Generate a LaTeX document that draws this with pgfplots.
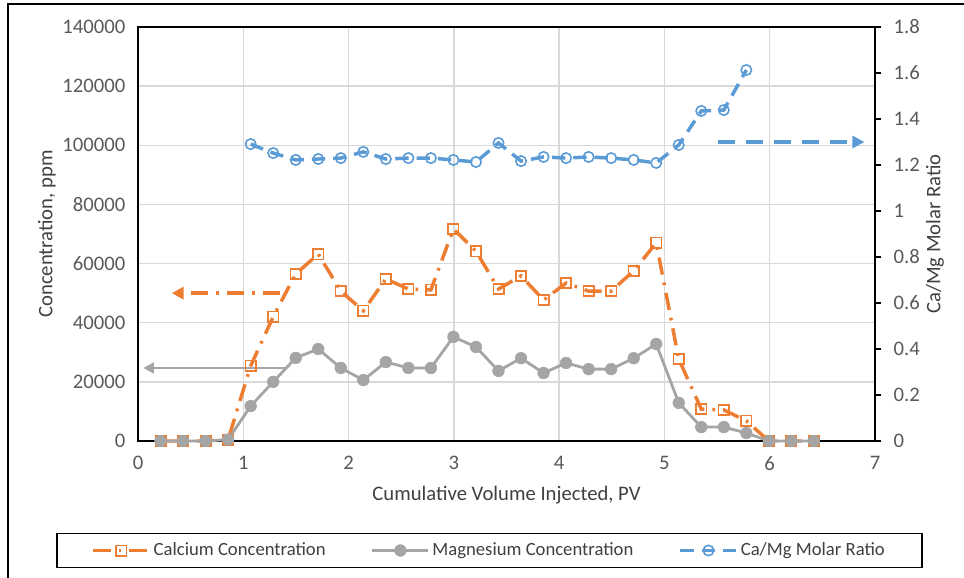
\documentclass[border=0pt]{standalone}
\usepackage{fontspec}
\setmainfont{Carlito}
\usepackage{pgfplots}
\pgfplotsset{compat=1.18}
\usetikzlibrary{arrows.meta}
\definecolor{caor}{HTML}{ED7D31}
\definecolor{mggr}{HTML}{A5A5A5}
\definecolor{rtbl}{HTML}{5B9BD5}
\definecolor{gridc}{HTML}{D9D9D9}
\definecolor{tickc}{HTML}{595959}
\definecolor{titc}{HTML}{404040}
\pgfplotsset{
  castyle/.style={caor, line width=2.6pt, dash pattern=on 13pt off 6pt on 2pt off 6pt,
    mark=square, mark size=3.9pt, mark options={solid, line width=1.2pt, fill=none}},
  mgstyle/.style={mggr, line width=2.1pt, mark=*, mark size=4.4pt,
    mark options={solid, fill=mggr, draw=mggr, line width=0.4pt}},
  rtstyle/.style={rtbl, line width=2.6pt, dash pattern=on 10pt off 6pt,
    mark=o, mark size=3.9pt, mark options={solid, line width=1.2pt, fill=none}},
  common/.style={
    at={(103.5pt,102.75pt)}, anchor=south west,
    scale only axis, width=552.75pt, height=310.5pt,
    xmin=0, xmax=7,
    font=\fontsize{15.5}{18}\selectfont,
    /pgf/number format/fixed,
    /pgf/number format/precision=2,
    /pgf/number format/assume math mode=true,
    /pgf/number format/set thousands separator={},
    ticklabel style={tickc, font=\fontsize{15.5}{18}\selectfont},
    label style={titc, font=\fontsize{15.5}{18}\selectfont},
    axis line style={black, line width=1.1pt},
    clip=false,
  },
}
\begin{document}
\begin{tikzpicture}[x=0.75pt,y=0.75pt]
\path[use as bounding box] (0,0) rectangle (964,578);
\draw[line width=1.5pt, black] (8,0) -- (8,574) -- (964,574);
\begin{axis}[common,
  ymin=0, ymax=140000,
  xtick={0,1,...,7}, ytick={0,20000,...,140000},
  scaled y ticks=false,
  grid=major, major grid style={gridc, line width=1.1pt},
  tick style={draw=none},
  yticklabel style={xshift=-6pt},
  xticklabel style={yshift=-8pt},
  xlabel={Cumulative Volume Injected, PV},
  ylabel={Concentration, ppm},
  xlabel style={at={(axis description cs:0.5,-0.1304)}, anchor=center},
  ylabel style={at={(axis description cs:-0.1235,0.5)}, anchor=center},
]
\addplot[castyle] coordinates {
(0.214,0) (0.428,0) (0.642,0) (0.856,500) (1.070,25400) (1.284,42000)
(1.498,56500) (1.712,63200) (1.926,50700) (2.140,44000) (2.354,54800)
(2.568,51400) (2.782,51100) (2.996,71700) (3.210,64200) (3.424,51400)
(3.638,55800) (3.852,47700) (4.066,53400) (4.280,50700) (4.494,50700)
(4.708,57500) (4.922,67000) (5.136,27700) (5.350,10800) (5.564,10500)
(5.778,6800) (5.992,0) (6.206,0) (6.420,0)};
\addplot[caor, line width=2.6pt, dash pattern=on 13pt off 6pt on 2pt off 6pt,
  -{Triangle[length=9pt,width=9pt]}] coordinates {(1.35,50000) (0.32,50000)};
\addplot[mggr, line width=1.9pt, -{Triangle[length=8pt,width=8pt]}]
  coordinates {(1.41,24700) (0.05,24700)};
\addplot[mgstyle] coordinates {
(0.214,0) (0.428,0) (0.642,0) (0.856,500) (1.070,11800) (1.284,20000)
(1.498,28100) (1.712,31100) (1.926,24700) (2.140,20600) (2.354,26700)
(2.568,24700) (2.782,24700) (2.996,35200) (3.210,31800) (3.424,23700)
(3.638,28000) (3.852,23000) (4.066,26400) (4.280,24300) (4.494,24300)
(4.708,28000) (4.922,32800) (5.136,12900) (5.350,4700) (5.564,4700)
(5.778,2700) (5.992,0) (6.206,0) (6.420,0)};
\end{axis}
\begin{axis}[common,
  ymin=0, ymax=1.8, ytick={0,0.2,...,1.8},
  axis y line*=right, axis x line=none,
  tick align=outside, major tick length=4.5pt,
  ytick style={black, line width=1.1pt},
  yticklabel style={xshift=6pt},
  ylabel={Ca/Mg Molar Ratio},
  ylabel style={at={(axis description cs:1.0814,0.5)}, anchor=center},
  legend style={at={(axis description cs:0.477,-0.2645)}, anchor=center,
    legend columns=3, draw=black, line width=1.1pt, text=titc,
    font=\fontsize{14}{16}\selectfont, inner xsep=26pt, inner ysep=5pt,
    /tikz/every even column/.append style={column sep=32pt}},
  legend image code/.code={\draw[mark repeat=2,mark phase=2,#1] plot coordinates {(0pt,0pt) (21pt,0pt) (42pt,0pt)};},
]
\addlegendimage{castyle}
\addlegendentry{Calcium Concentration}
\addlegendimage{mgstyle}
\addlegendentry{Magnesium Concentration}
\addplot[rtstyle] coordinates {
(1.070,1.291) (1.284,1.252) (1.498,1.222) (1.712,1.226) (1.926,1.230)
(2.140,1.257) (2.354,1.226) (2.568,1.230) (2.782,1.230) (2.996,1.222)
(3.210,1.213) (3.424,1.296) (3.638,1.217) (3.852,1.235) (4.066,1.230)
(4.280,1.235) (4.494,1.230) (4.708,1.222) (4.922,1.209) (5.136,1.287)
(5.350,1.435) (5.564,1.439) (5.778,1.613)};
\addlegendentry{Ca/Mg Molar Ratio}
\addplot[rtbl, line width=2.8pt, dash pattern=on 12.5pt off 8.5pt,
  -{Triangle[length=9pt,width=9pt]}, forget plot] coordinates {(5.51,1.3) (6.90,1.3)};
\end{axis}
\end{tikzpicture}
\end{document}
